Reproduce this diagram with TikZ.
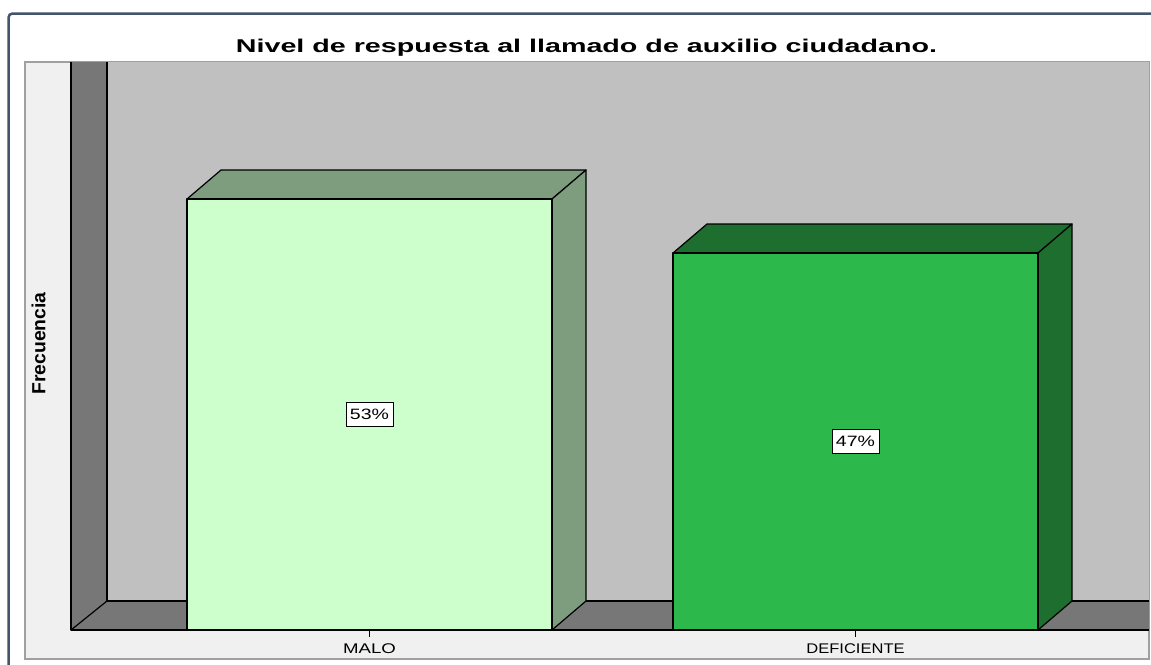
\documentclass[tikz,border=0pt]{standalone}
\usepackage{fontspec}
\setmainfont{Liberation Sans}
\usepackage{graphicx}
\usetikzlibrary{positioning}
\definecolor{frameblue}{HTML}{44546A}
\definecolor{panel}{HTML}{F0F0F0}
\definecolor{panelline}{HTML}{A0A0A0}
\definecolor{backwall}{HTML}{C0C0C0}
\definecolor{sidewall}{HTML}{777777}
\definecolor{barlight}{HTML}{CCFFCC}
\definecolor{barlightside}{HTML}{7E9C7E}
\definecolor{bardark}{HTML}{2DB84B}
\definecolor{bardarkside}{HTML}{1E6E30}
\tikzset{
  edge/.style={draw=black, line width=1.2pt, line join=round},
  pct/.style={draw=black, fill=white, line width=0.8pt, minimum width=47pt,
    minimum height=24pt, inner sep=0pt, font=\fontsize{15}{15}\selectfont},
  catlabel/.style={anchor=base, font=\fontsize{14}{14}\selectfont},
}

\begin{document}
\begin{tikzpicture}[x=1pt, y=-1pt]
  \useasboundingbox (0,0) rectangle (1151,664);
  \draw[frameblue, line width=2.5pt, rounded corners=4pt]
    (8.5,670) -- (8.5,13.5) -- (1160,13.5);
  \node[anchor=base] (title) at (586.5,52)
    {\scalebox{1.55}[1]{\fontsize{18.5}{18.5}\bfseries Nivel de respuesta al llamado de auxilio ciudadano.}};
  \draw[panelline, fill=panel, line width=1.2pt] (25,62) rectangle (1149,659);
  \fill[backwall] (107,62) rectangle (1149,601);
  \fill[sidewall] (71,62) -- (107,62) -- (107,601) -- (1149,601) -- (1149,630) -- (71,630) -- cycle;
  \draw[edge] (71,62) -- (71,630) -- (1149,630);
  \draw[edge] (107,62) -- (107,601) -- (1149,601);
  \draw[edge] (71,630) -- (107,601);
  \node[rotate=90] (ylabel) at (38.5,343.5)
    {\scalebox{1.02}[1]{\fontsize{19}{19}\bfseries Frecuencia}};
  \foreach \name/\l/\t/\front/\side/\val/\cat/\w in
    {malo/187/199/barlight/barlightside/53/MALO/1.33,
     deficiente/673/253/bardark/bardarkside/47/DEFICIENTE/1.18}
  {
    \filldraw[edge, fill=\side] (\l,\t) -- ++(34,-29) -- ++(365,0) -- ++(-34,29) -- cycle;
    \filldraw[edge, fill=\side] ({\l+365},\t) -- ++(34,-29) -- ({\l+399},601) -- ({\l+365},630) -- cycle;
    \filldraw[edge, fill=\front] (\l,\t) rectangle ({\l+365},630);
    \coordinate (\name-mid) at ({\l+182.5},{(\t+630)/2});
    \coordinate (\name-base) at ({\l+182.5},630);
    \coordinate (\name-tick) at ({\l+182.5},637);
    \draw[line width=1pt] (\name-base) -- (\name-tick);
    \node[pct] (\name-val) at (\name-mid) {\scalebox{1.3}[1]{\val\%}};
    \node[catlabel] (\name-cat) at ({\l+182.5},653) {\scalebox{\w}[1]{\cat}};
  }
\end{tikzpicture}
\end{document}
